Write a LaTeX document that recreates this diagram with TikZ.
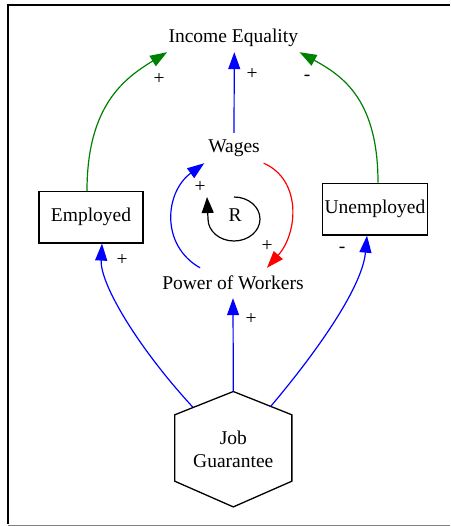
\documentclass[tikz,border=0pt]{standalone}
\usepackage{fontspec}
\setmainfont{Liberation Serif}
\usetikzlibrary{arrows.meta}
\definecolor{gvgreen}{RGB}{0,128,0}
\begin{document}
\begin{tikzpicture}[x=1pt,y=-1pt,
  every node/.style={font=\fontsize{19.5}{23.7}\selectfont, inner sep=0pt},
  lbl/.style={text=black},
  boxnode/.style={draw, line width=1.3pt, minimum width=104pt, minimum height=51.5pt},
  link/.style={line width=1.2pt, -{Triangle[length=17pt,width=12pt]}},
  bluelink/.style={link, blue},
  greenlink/.style={link, gvgreen},
  redlink/.style={link, red}]
\useasboundingbox (0,0) rectangle (450,526);
% frame
\draw[line width=2pt] (8.3,524) -- (8.3,5.2) -- (450,5.2);
\draw[gray, line width=1pt] (8,525) -- (450,525);

% nodes
\node[minimum width=132pt, minimum height=28pt] (ie) at (233.3,38) {Income Equality};
\node[minimum width=59pt, minimum height=30pt] (wages) at (234,148) {Wages};
\node[minimum height=30pt] (pow) at (233,283) {Power of Workers};
\node[boxnode] (emp) at (91,217.2) {Employed};
\node[boxnode, minimum width=104.6pt, minimum height=51.7pt] (unemp) at (375,209.2) {Unemployed};
\node[minimum width=116.7pt, minimum height=115pt, align=center] (jg) at (233.3,449.2) {Job\\Guarantee};
\draw[line width=1.3pt] (jg.north) -- ([yshift=-23.3pt]jg.north east) -- ([yshift=25.7pt]jg.south east)
  -- (jg.south) -- ([yshift=25.7pt]jg.south west) -- ([yshift=-23.3pt]jg.north west) -- cycle;
\node (R) at (235,215) {R};

% connectors
\draw[greenlink] ([xshift=-4pt]emp.north) .. controls (87,105) and (125,78) .. (ie.south west);
\draw[greenlink] ([xshift=3pt]unemp.north) .. controls (378,100) and (343,76) .. (ie.south east);
\draw[bluelink] (wages.north) -- ([xshift=1pt]ie.south);
\draw[bluelink] ([xshift=-33pt]pow.north) .. controls (160,245) and (165,192) .. (wages.south west);
\draw[redlink] (wages.south east) .. controls (302,180) and (298,233) .. ([xshift=34pt]pow.north);
\draw[bluelink] (jg.north) -- (pow.south);
\draw[bluelink] ([shift={(-40.6,15.5)}]jg.north) .. controls (140,350) and (100,285) .. ([xshift=11pt]emp.south);
\draw[bluelink] ([shift={(37.7,14.5)}]jg.north) .. controls (310,360) and (362,290) .. ([xshift=-8pt]unemp.south);
% R loop
\draw[line width=1.2pt, -{Triangle[length=16pt,width=12pt]}] ([shift={(-1,-18)}]R.center) arc[start angle=-90, end angle=180, x radius=26, y radius=22] -- ([shift={(-28,-18)}]R.center);

% polarity labels
\node[lbl] (p1) at (159,79) {+};
\node[lbl] (p2) at (252,74) {+};
\node[lbl] (p3) at (307,78) {-};
\node[lbl] (p4) at (200,187) {+};
\node[lbl] (p5) at (267,246) {+};
\node[lbl] (p6) at (251,319) {+};
\node[lbl] (p7) at (122,260) {+};
\node[lbl] (p8) at (342,250) {-};
\end{tikzpicture}
\end{document}
